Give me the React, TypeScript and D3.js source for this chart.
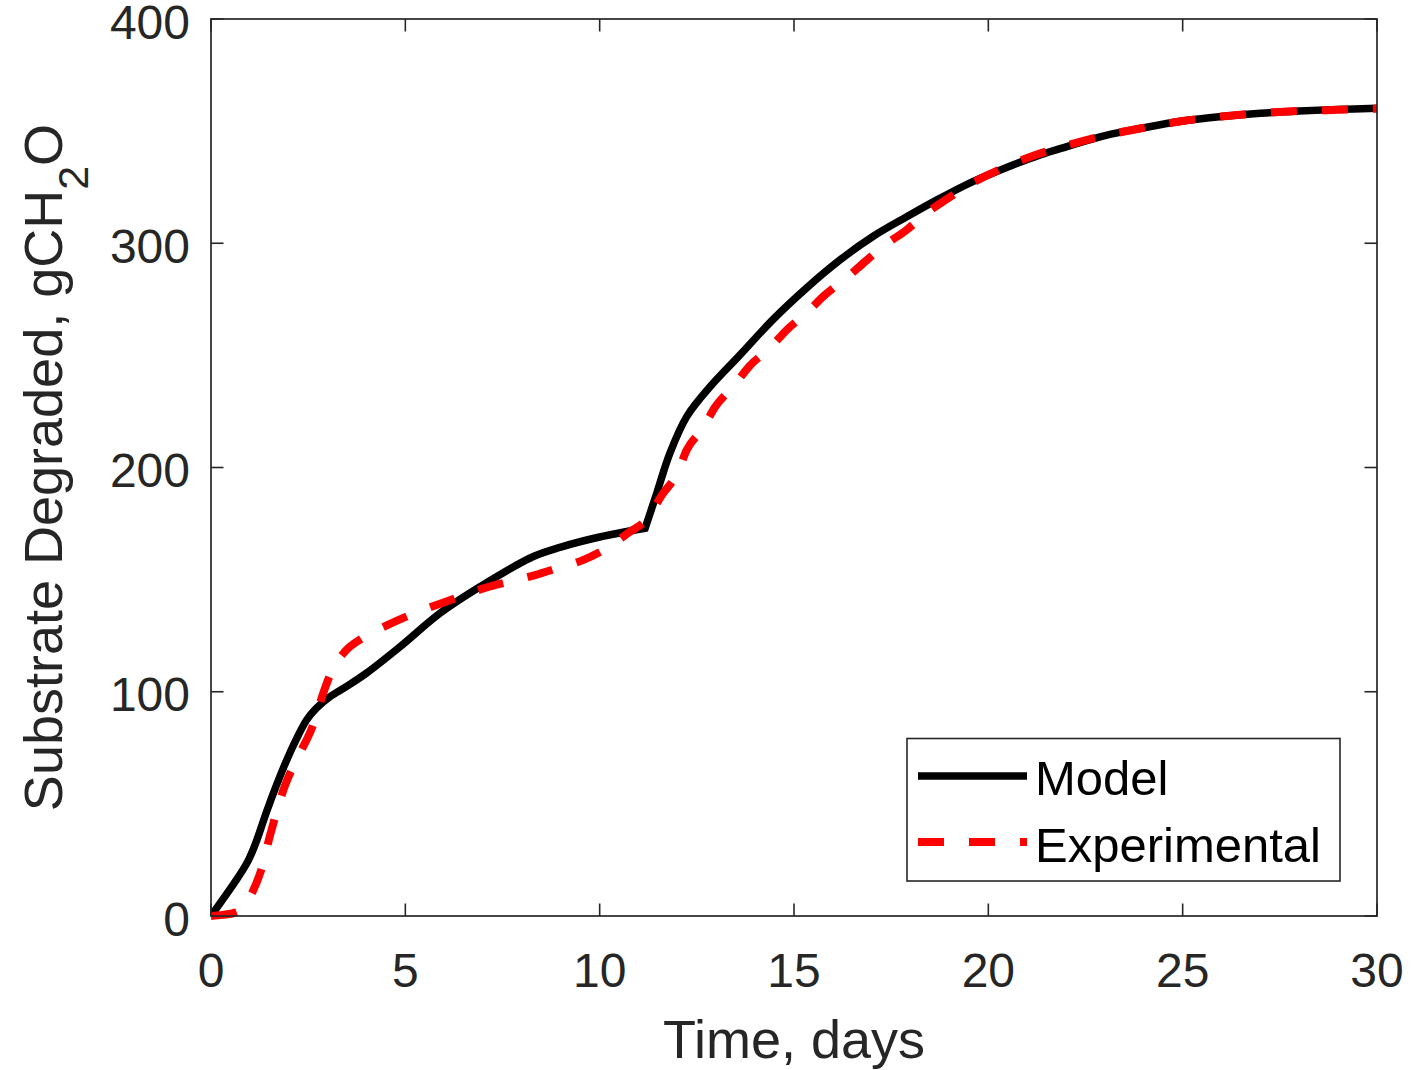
import React from "react";
import * as d3 from "d3";

// ---- data ----
const modelDaysA = [0, 0.35, 0.6, 0.8, 0.98, 1.15, 1.43, 1.7, 1.95, 2.2, 2.46, 2.7, 3.06, 3.5, 4.0, 4.86, 5.89, 6.92, 8.28, 9.0, 10.0, 11.17];
const modelValsA = [0, 8.5, 14.8, 20, 25.5, 32.5, 46.5, 59, 69.6, 79, 87.4, 92.5, 97.8, 102.5, 108.3, 120, 135, 146.8, 160.2, 164.5, 169, 172.9];
const modelDaysB = [11.17, 11.47, 11.81, 12.24, 12.84, 13.6, 14.46, 15.32, 16.18, 17.03, 17.9, 18.75, 19.6, 20.5, 21.33, 22, 23, 24, 25, 26, 27, 28, 29, 30];
const modelValsB = [172.9, 188.6, 206.5, 222.7, 236, 250, 266, 280, 292.5, 303, 311.8, 320, 327.5, 334, 339.4, 343, 348, 351.5, 354.5, 356.5, 358, 359, 359.7, 360.2];

const expDays = [0, 0.3, 0.62, 0.85, 1.05, 1.3, 1.52, 1.9, 2.3, 2.6, 2.9, 3.1, 3.45, 3.9, 4.55, 5.12, 5.8, 6.4, 7.05, 7.64, 8.34, 8.93, 9.57, 10.18, 10.73, 11.24, 11.6, 12.0, 12.24, 12.66, 12.97, 13.43, 13.87, 14.38, 14.81, 15.32, 15.8, 16.35, 16.83, 17.34, 17.9, 18.41, 18.96, 19.5, 20, 21, 22, 23, 24, 25, 26, 27, 28, 29, 30];
const expVals = [0, 0.5, 1.5, 4, 10, 21, 36, 58, 73, 84, 100, 109, 118, 124, 129.8, 134.2, 138.7, 142.4, 146.3, 149, 152, 155.2, 158.7, 164, 170.8, 177.5, 187.7, 197.5, 207.8, 217.6, 227, 236, 245.5, 253.3, 261.3, 268.9, 277, 284.5, 291.8, 299.2, 306, 313.5, 320, 326, 330.5, 338, 343.5, 348, 351.5, 354.5, 356.5, 358, 359, 359.5, 360];

const xTicks = [0, 5, 10, 15, 20, 25, 30];
const yTicks = [0, 100, 200, 300, 400];

const seriesNames = ["Model", "Experimental"];

const W = 1412;
const H = 1070;
const L = 211, R = 1377, T = 19, B = 916;
const AX = "#262626";
const FONT = "Arial, 'Liberation Sans', Helvetica, sans-serif";

export default function App() {
  const x = d3.scaleLinear().domain([0, 30]).range([L, R]);
  const y = d3.scaleLinear().domain([0, 400]).range([B, T]);

  const modelLine = d3
    .line<[number, number]>()
    .x((d) => x(d[0]))
    .y((d) => y(d[1]))
    .curve(d3.curveCatmullRom.alpha(0.5));

  const expLine = d3
    .line<[number, number]>()
    .x((d) => x(d[0]))
    .y((d) => y(d[1]))
    .curve(d3.curveMonotoneX);

  const mA = modelDaysA.map((d, i) => [d, modelValsA[i]] as [number, number]);
  const mB = modelDaysB.map((d, i) => [d, modelValsB[i]] as [number, number]);
  const ex = expDays.map((d, i) => [d, expVals[i]] as [number, number]);

  const modelPath = (modelLine(mA) || "") + (modelLine(mB) || "").replace(/^M/, "L");
  const expPath = expLine(ex) || "";

  const tickLen = 12.5;

  return (
    <svg
      width={W}
      height={H}
      style={{ position: "absolute", left: 0, top: 0, background: "#fff" }}
      fontFamily={FONT}
    >
      <rect x={0} y={0} width={W} height={H} fill="#fff" />
      <defs>
        <clipPath id="plotclip">
          <rect x={L} y={T - 6} width={R - L + 6} height={B - T + 12} />
        </clipPath>
      </defs>

      {/* ticks */}
      {xTicks.map((t) => (
        <g key={"xt" + t}>
          <line x1={x(t)} x2={x(t)} y1={B} y2={B - tickLen} stroke={AX} strokeWidth={1.6} />
          <line x1={x(t)} x2={x(t)} y1={T} y2={T + tickLen} stroke={AX} strokeWidth={1.6} />
          <text x={x(t)} y={987} textAnchor="middle" fontSize={48} fill={AX}>
            {t}
          </text>
        </g>
      ))}
      {yTicks.map((t) => (
        <g key={"yt" + t}>
          <line x1={L} x2={L + tickLen} y1={y(t)} y2={y(t)} stroke={AX} strokeWidth={1.6} />
          <line x1={R} x2={R - tickLen} y1={y(t)} y2={y(t)} stroke={AX} strokeWidth={1.6} />
          <text x={190} y={y(t) + 19.5} textAnchor="end" fontSize={48} fill={AX}>
            {t}
          </text>
        </g>
      ))}

      {/* data lines */}
      <g clipPath="url(#plotclip)">
        <path d={modelPath} fill="none" stroke="#000" strokeWidth={7.5} strokeLinejoin="miter" />
        <path
          d={expPath}
          fill="none"
          stroke="#ff0000"
          strokeWidth={8}
          strokeDasharray="26 25"
        />
      </g>

      {/* axes box */}
      <rect x={L} y={T} width={R - L} height={B - T} fill="none" stroke={AX} strokeWidth={1.7} />

      {/* axis labels */}
      <text x={(L + R) / 2} y={1058} textAnchor="middle" fontSize={54} fill={AX}>
        Time, days
      </text>
      <text
        transform={`translate(62,${(T + B) / 2}) rotate(-90)`}
        textAnchor="middle"
        fontSize={54}
        fill={AX}
      >
        <tspan>Substrate Degraded, gCH</tspan>
        <tspan dy={26} fontSize={43}>2</tspan>
        <tspan dy={-26}>O</tspan>
      </text>

      {/* legend */}
      <rect x={907} y={738.5} width={433} height={142.5} fill="#fff" stroke={AX} strokeWidth={1.6} />
      <line x1={918} x2={1027} y1={776} y2={776} stroke="#000" strokeWidth={7.5} />
      <line x1={918} x2={1027} y1={842} y2={842} stroke="#ff0000" strokeWidth={8} strokeDasharray="26 25" />
      <text x={1035} y={795} fontSize={49} fill="#000">
        {seriesNames[0]}
      </text>
      <text x={1035} y={861.5} fontSize={49} fill="#000">
        {seriesNames[1]}
      </text>
    </svg>
  );
}
